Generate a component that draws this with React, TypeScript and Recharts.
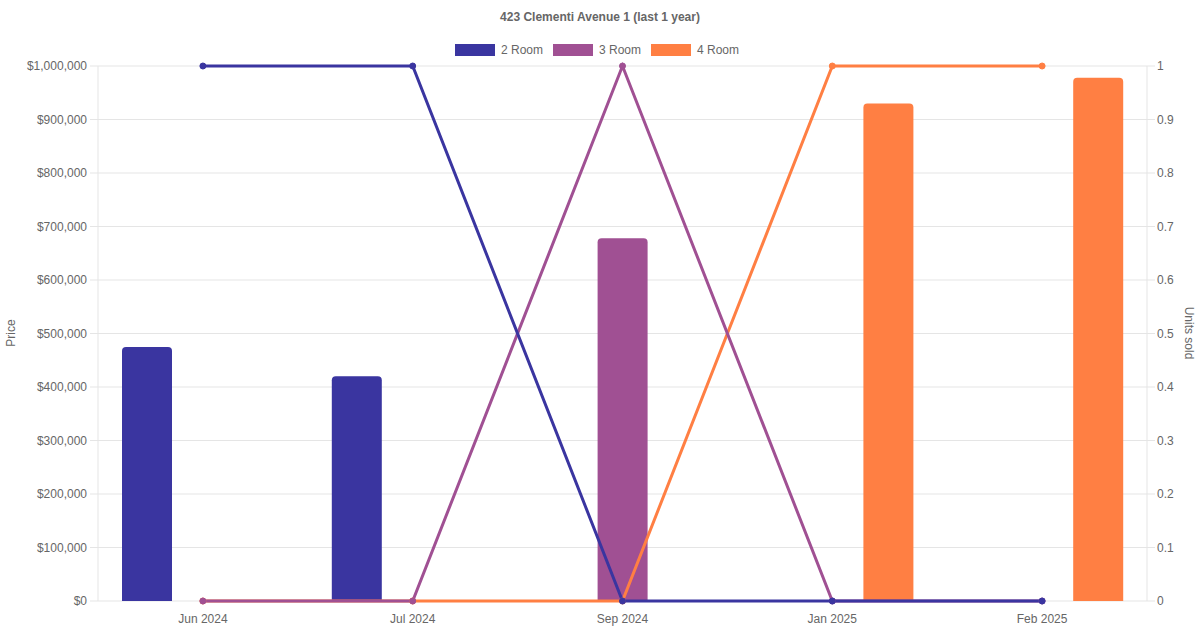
import { ComposedChart, Bar, Line, XAxis, YAxis, CartesianGrid } from 'recharts';

const months = ['Jun 2024', 'Jul 2024', 'Sep 2024', 'Jan 2025', 'Feb 2025'];

// price per month (bars, left axis)
const price2Room = [475000, 420000, null, null, null];
const price3Room = [null, null, 678000, null, null];
const price4Room = [null, null, null, 930000, 978000];

// units sold per month (lines, right axis)
const units2Room = [1, 1, 0, 0, 0];
const units3Room = [0, 0, 1, 0, 0];
const units4Room = [0, 0, 0, 1, 1];

const priceTicks = [0, 100000, 200000, 300000, 400000, 500000, 600000, 700000, 800000, 900000, 1000000];
const unitTicks = [0, 0.1, 0.2, 0.3, 0.4, 0.5, 0.6, 0.7, 0.8, 0.9, 1];

const series = [
  { name: '2 Room', color: '#3a35a0' },
  { name: '3 Room', color: '#a05093' },
  { name: '4 Room', color: '#ff7f43' },
];

const data = months.map((m, i) => ({
  month: m,
  p2: price2Room[i],
  p3: price3Room[i],
  p4: price4Room[i],
  u2: units2Room[i],
  u3: units3Room[i],
  u4: units4Room[i],
}));

const font = '"Liberation Sans", Arial, Helvetica, sans-serif';
const gridColor = '#e5e5e5';
const tickStyle = { fontSize: 12, fill: '#666', fontFamily: font };

export default function App() {
  return (
    <div style={{ position: 'absolute', left: 0, top: 0, width: 1200, height: 630, background: '#fff', fontFamily: font }}>
      <div style={{ position: 'absolute', top: 10, left: 0, width: 1200, textAlign: 'center', fontSize: 12, lineHeight: '14px', fontWeight: 'bold', color: '#666' }}>
        423 Clementi Avenue 1 (last 1 year)
      </div>
      <div style={{ position: 'absolute', top: 43, left: -3, width: 1200, display: 'flex', justifyContent: 'center', gap: 10, fontSize: 12, lineHeight: '14px', color: '#666' }}>
        {series.map((s) => (
          <div key={s.name} style={{ display: 'flex', alignItems: 'center', gap: 6 }}>
            <span style={{ display: 'inline-block', width: 40, height: 12, boxSizing: 'border-box', background: s.color, border: `1px solid ${s.color}` }} />
            <span>{s.name}</span>
          </div>
        ))}
      </div>
      <span style={{ position: 'absolute', left: 11, top: 333, transform: 'translate(-50%, -50%) rotate(-90deg)', fontSize: 12, color: '#666', whiteSpace: 'nowrap' }}>
        Price
      </span>
      <span style={{ position: 'absolute', left: 1189, top: 333, transform: 'translate(-50%, -50%) rotate(90deg)', fontSize: 12, color: '#666', whiteSpace: 'nowrap' }}>
        Units sold
      </span>
      <ComposedChart
        width={1200}
        height={630}
        data={data}
        margin={{ top: 66, right: 0, bottom: 0, left: 0 }}
        barGap={6}
      >
        {/* grid draws the bottom border too, so the lines sit above it */}
        <CartesianGrid yAxisId="price" vertical={false} stroke={gridColor} />
        <XAxis
          dataKey="month"
          height={29}
          tick={tickStyle}
          tickLine={false}
          tickSize={0}
          tickMargin={13}
          axisLine={false}
        />
        <YAxis
          yAxisId="price"
          width={98}
          domain={[0, 1000000]}
          ticks={priceTicks}
          tick={tickStyle}
          tickSize={8}
          tickMargin={3}
          tickLine={{ stroke: gridColor }}
          axisLine={{ stroke: gridColor }}
          tickFormatter={(v: number) => '$' + v.toLocaleString('en-US')}
        />
        <YAxis
          yAxisId="units"
          orientation="right"
          width={53}
          domain={[0, 1]}
          ticks={unitTicks}
          tick={tickStyle}
          tickSize={8}
          tickMargin={2}
          tickLine={{ stroke: gridColor }}
          axisLine={{ stroke: gridColor }}
        />
        <Bar yAxisId="price" dataKey="p2" name="2 Room" fill={series[0].color} barSize={50} radius={[4, 4, 0, 0]} isAnimationActive={false} />
        <Bar yAxisId="price" dataKey="p3" name="3 Room" fill={series[1].color} barSize={50} radius={[4, 4, 0, 0]} isAnimationActive={false} />
        <Bar yAxisId="price" dataKey="p4" name="4 Room" fill={series[2].color} barSize={50} radius={[4, 4, 0, 0]} isAnimationActive={false} />
        {/* drawn back to front so 2 Room ends up on top */}
        <Line yAxisId="units" dataKey="u4" name="4 Room" type="linear" stroke={series[2].color} strokeWidth={3}
          dot={{ r: 3, fill: series[2].color, stroke: series[2].color, strokeWidth: 1 }} activeDot={false} isAnimationActive={false} />
        <Line yAxisId="units" dataKey="u3" name="3 Room" type="linear" stroke={series[1].color} strokeWidth={3}
          dot={{ r: 3, fill: series[1].color, stroke: series[1].color, strokeWidth: 1 }} activeDot={false} isAnimationActive={false} />
        <Line yAxisId="units" dataKey="u2" name="2 Room" type="linear" stroke={series[0].color} strokeWidth={3}
          dot={{ r: 3, fill: series[0].color, stroke: series[0].color, strokeWidth: 1 }} activeDot={false} isAnimationActive={false} />
      </ComposedChart>
    </div>
  );
}
